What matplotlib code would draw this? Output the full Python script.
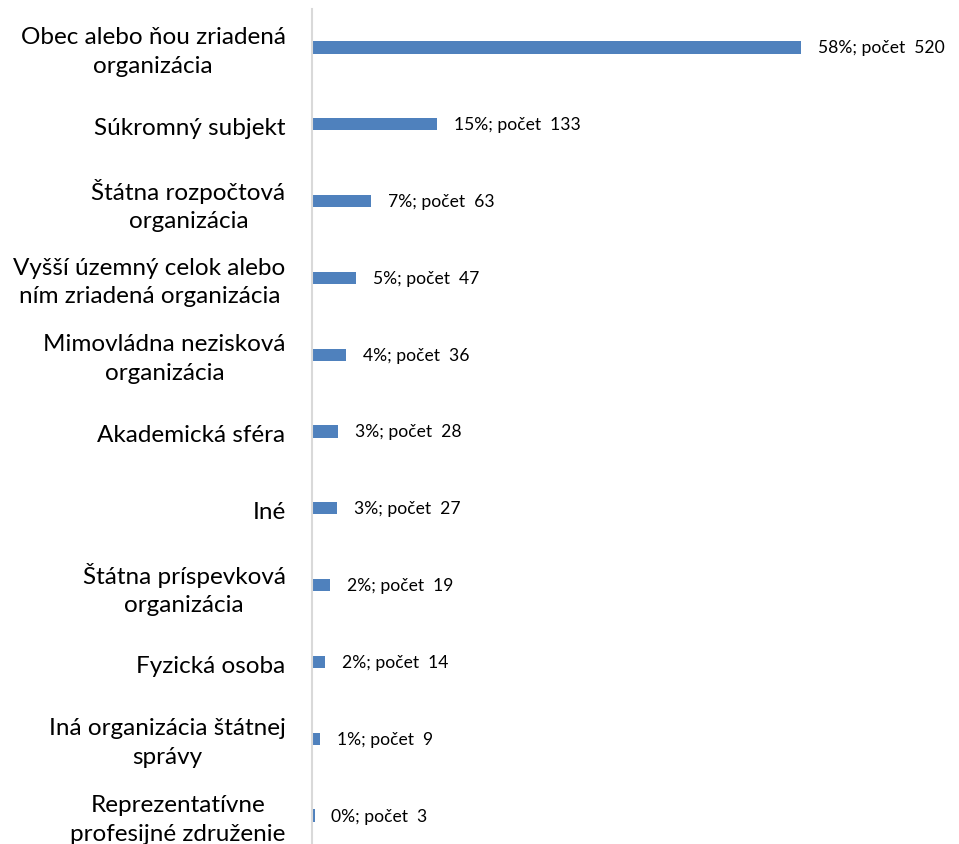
import matplotlib.pyplot as plt

# kategórie (zhora nadol)
kategorie = [
    'Obec alebo ňou zriadená\norganizácia',
    'Súkromný subjekt',
    'Štátna rozpočtová\norganizácia',
    'Vyšší územný celok alebo\nním zriadená organizácia',
    'Mimovládna nezisková\norganizácia',
    'Akademická sféra',
    'Iné',
    'Štátna príspevková\norganizácia',
    'Fyzická osoba',
    'Iná organizácia štátnej\nsprávy',
    'Reprezentatívne\nprofesijné združenie',
]
pocet = [520, 133, 63, 47, 36, 28, 27, 19, 14, 9, 3]
percenta = [58, 15, 7, 5, 4, 3, 3, 2, 2, 1, 0]

plt.rcParams['font.family'] = ['Lato', 'DejaVu Sans']

fig = plt.figure(figsize=(9.59, 8.45), dpi=100)
ax = fig.add_axes([312 / 959, -10 / 845, 1 - 312 / 959, 835 / 845 + 10 / 845])

y = list(range(len(kategorie)))
ax.barh(y, pocet, height=0.16, color='#4F81BD')
ax.set_ylim(len(kategorie) - 0.5, -0.5)
ax.set_xlim(0, 688)

for yi, p, pc in zip(y, pocet, percenta):
    ax.annotate(f'{pc}%; počet  {p}', (p, yi), xytext=(12, 0), textcoords='offset points',
                va='center', ha='left', fontsize=12.6, color='#000000')

# popisky kategórií (namiesto tick labels, aby sa dali posunúť)
for yi, k in zip(y, kategorie):
    ax.annotate(k, (0, yi), xytext=(-19, -2.5), textcoords='offset points',
                va='center', ha='right', multialignment='center',
                fontsize=17.5, linespacing=1.45, annotation_clip=False)

ax.set_yticks([])
ax.set_xticks([])
for s in ['top', 'right', 'bottom']:
    ax.spines[s].set_visible(False)
ax.spines['left'].set_color('#D9D9D9')
ax.spines['left'].set_linewidth(1.5)

fig.savefig('out.png', dpi=100)
